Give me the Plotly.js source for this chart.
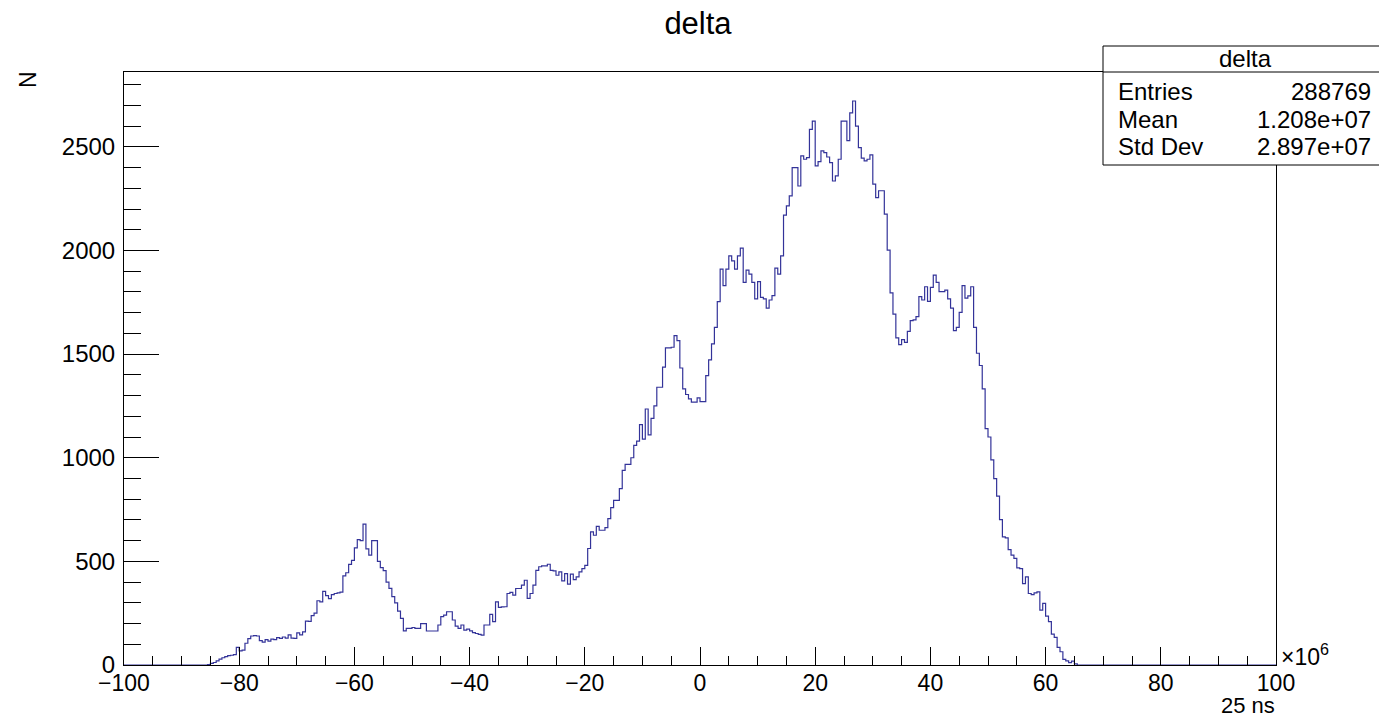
<!DOCTYPE html>
<html>
<head>
<meta charset="utf-8">
<script src="https://cdn.plot.ly/plotly-3.0.1.min.js"></script>
<style>html,body{margin:0;padding:0;background:#fff;}#chart{width:1379px;height:717px;}</style>
</head>
<body>
<div id="chart"></div>
<script>
// Histogram "delta": 400 bins of 0.5 (x10^6) from -100 to 100
const histXMin = -100;
const histXMax = 100;
const binWidth = 0.5;
const firstFilledBinLow = -85.5;   // low edge of first non-empty bin
const counts = [
  2, 8, 12, 20, 28, 35, 40, 45, 47, 50,          // -85.5 .. -81
  85, 68, 72, 105, 127, 140, 142, 140, 118, 110, // -80.5 .. -76
  122, 115, 125, 122, 132, 128, 135, 130, 145, 130, // -75.5 .. -71
  128, 155, 145, 160, 212, 210, 238, 250, 310, 305, // -70.5 .. -66
  355, 335, 320, 340, 345, 348, 352, 430, 445, 485, // -65.5 .. -61
  505, 565, 605, 600, 680, 560, 530, 600, 600, 500, // -60.5 .. -56
  470, 455, 400, 370, 330, 300, 260, 225, 165, 177, // -55.5 .. -51
  177, 181, 177, 177, 200, 200, 164, 164, 164, 164, // -50.5 .. -46
  193, 233, 241, 257, 257, 217, 188, 177, 193, 168, // -45.5 .. -41
  173, 165, 156, 152, 148, 144, 193, 193, 244, 209, // -40.5 .. -36
  305, 278, 280, 281, 345, 350, 337, 369, 369, 385, // -35.5 .. -31
  409, 321, 345, 385, 457, 474, 478, 478, 486, 457, // -30.5 .. -26
  454, 433, 449, 406, 441, 390, 438, 412, 425, 449, // -25.5 .. -21
  465, 481, 562, 642, 626, 669, 650, 650, 663, 706, // -20.5 .. -16
  759, 794, 794, 851, 939, 968, 968, 1000, 1060, 1080, // -15.5 .. -11
  1160, 1090, 1235, 1110, 1190, 1250, 1340, 1340, 1437, 1530, // -10.5 .. -6
  1530, 1533, 1589, 1565, 1433, 1332, 1305, 1284, 1268, 1268, // -5.5 .. -1
  1289, 1271, 1271, 1396, 1472, 1549, 1629, 1753, 1910, 1830, // -0.5 .. 4
  1910, 1974, 1950, 1910, 1974, 2011, 1846, 1905, 1886, 1846, // 4.5 .. 9
  1766, 1850, 1774, 1766, 1722, 1761, 1782, 1915, 1886, 1974, // 9.5 .. 14
  2170, 2215, 2263, 2400, 2400, 2311, 2456, 2440, 2448, 2584, // 14.5 .. 19
  2624, 2408, 2429, 2480, 2472, 2451, 2424, 2335, 2360, 2440, // 19.5 .. 24
  2624, 2624, 2530, 2664, 2721, 2600, 2496, 2445, 2432, 2440, // 24.5 .. 29
  2461, 2320, 2255, 2288, 2288, 2175, 2002, 1795, 1693, 1578, // 29.5 .. 34
  1546, 1570, 1557, 1610, 1661, 1665, 1681, 1777, 1761, 1825, // 34.5 .. 39
  1754, 1822, 1881, 1846, 1801, 1801, 1809, 1766, 1722, 1613, // 39.5 .. 44
  1629, 1701, 1830, 1770, 1781, 1825, 1629, 1504, 1445, 1332, // 44.5 .. 49
  1140, 1100, 990, 899, 815, 701, 618, 613, 557, 530,        // 49.5 .. 54
  514, 469, 465, 393, 425, 345, 340, 348, 353, 265,          // 54.5 .. 59
  297, 236, 209, 149, 133, 85, 64, 27, 20, 11,               // 59.5 .. 64
  19, 5                                                       // 64.5 .. 65
];
const xTickVals = [-100, -80, -60, -40, -20, 0, 20, 40, 60, 80, 100];
const yTickVals = [0, 500, 1000, 1500, 2000, 2500];
const statsTitle = 'delta';
const statsLabels = ['Entries', 'Mean', 'Std Dev'];
const statsValues = ['288769', '1.208e+07', '2.897e+07'];
const yMax = 2861;

// Build full bin list (empty bins are zero)
const nBins = Math.round((histXMax - histXMin) / binWidth);
const firstIdx = Math.round((firstFilledBinLow - histXMin) / binWidth);
const xs = [], ys = [];
for (let i = 0; i < nBins; i++) {
  xs.push(histXMin + i * binWidth);
  const k = i - firstIdx;
  ys.push(k >= 0 && k < counts.length ? counts[k] : 0);
}
xs.push(histXMax); ys.push(ys[ys.length - 1]);

// layout geometry
const W = 1379, H = 717;
const mL = 124, mR = 103, mT = 72, mB = 52;
const pw = W - mL - mR, ph = H - mT - mB;
const px = v => (v - mL) / pw;
const py = v => (H - mB - v) / ph;
const FONT = 'Liberation Sans, Arial, Helvetica, sans-serif';

const annotations = [];
annotations.push({xref:'paper', yref:'paper', x: px(1245), y: py(59), text: statsTitle, showarrow:false,
  xanchor:'center', yanchor:'middle', font:{family:FONT, size:24, color:'#000'}});
const rowY = [91, 119, 146];
statsLabels.forEach((l, i) => {
  annotations.push({xref:'paper', yref:'paper', x: px(1116), y: py(rowY[i]), text: l, showarrow:false,
    xanchor:'left', yanchor:'middle', font:{family:FONT, size:24, color:'#000'}});
  annotations.push({xref:'paper', yref:'paper', x: px(1373), y: py(rowY[i]), text: statsValues[i], showarrow:false,
    xanchor:'right', yanchor:'middle', font:{family:FONT, size:24, color:'#000'}});
});
annotations.push({xref:'paper', yref:'paper', x: px(28), y: py(80), text:'N', textangle:-90, showarrow:false,
  xanchor:'center', yanchor:'middle', font:{family:FONT, size:23, color:'#000'}});
annotations.push({xref:'paper', yref:'paper', x: px(1277), y: py(705), text:'25 ns', showarrow:false,
  xanchor:'right', yanchor:'middle', font:{family:FONT, size:22, color:'#000'}});
annotations.push({xref:'paper', yref:'paper', x: px(1279), y: py(655), text:'×10<sup>6</sup>', showarrow:false,
  xanchor:'left', yanchor:'middle', font:{family:FONT, size:23, color:'#000'}});

const shapes = [
  {type:'rect', xref:'paper', yref:'paper', x0: px(1103), x1: px(1395), y0: py(165), y1: py(46),
   line:{color:'#000', width:1}, fillcolor:'#fff', layer:'above'},
  {type:'line', xref:'paper', yref:'paper', x0: px(1103), x1: px(1395), y0: py(72), y1: py(72),
   line:{color:'#000', width:1}, layer:'above'}
];

const trace = {
  x: xs, y: ys, type:'scatter', mode:'lines',
  line:{shape:'hv', color:'#333399', width:1.2},
  hoverinfo:'skip'
};

const layout = {
  width: W, height: H,
  margin:{l:mL, r:mR, t:mT, b:mB, pad:0},
  paper_bgcolor:'#fff', plot_bgcolor:'#fff',
  showlegend:false,
  font:{family:FONT, color:'#000'},
  title:{text:'delta', x: 698/W, xref:'container', y: 1 - 23/H, yref:'container',
    xanchor:'center', yanchor:'middle', font:{family:FONT, size:31, color:'#000'}},
  xaxis:{range:[histXMin, histXMax], tickvals: xTickVals, ticks:'inside', ticklen:18, tickwidth:1, tickcolor:'#000',
    showline:true, mirror:true, linecolor:'#000', linewidth:1, showgrid:false, zeroline:false,
    tickfont:{family:FONT, size:23, color:'#000'}, ticklabelstandoff:-3,
    minor:{ticks:'inside', ticklen:9, dtick:5, tick0:0, tickcolor:'#000', tickwidth:1, showgrid:false}},
  yaxis:{range:[0, yMax], tickvals: yTickVals, ticks:'inside', ticklen:35, tickwidth:1, tickcolor:'#000',
    showline:true, mirror:true, linecolor:'#000', linewidth:1, showgrid:false, zeroline:false,
    tickfont:{family:FONT, size:24, color:'#000'}, ticklabelstandoff:3,
    minor:{ticks:'inside', ticklen:17, dtick:100, tick0:0, tickcolor:'#000', tickwidth:1, showgrid:false}},
  annotations: annotations,
  shapes: shapes
};

Plotly.newPlot('chart', [trace], layout, {displayModeBar:false, staticPlot:true});
</script>
</body>
</html>
